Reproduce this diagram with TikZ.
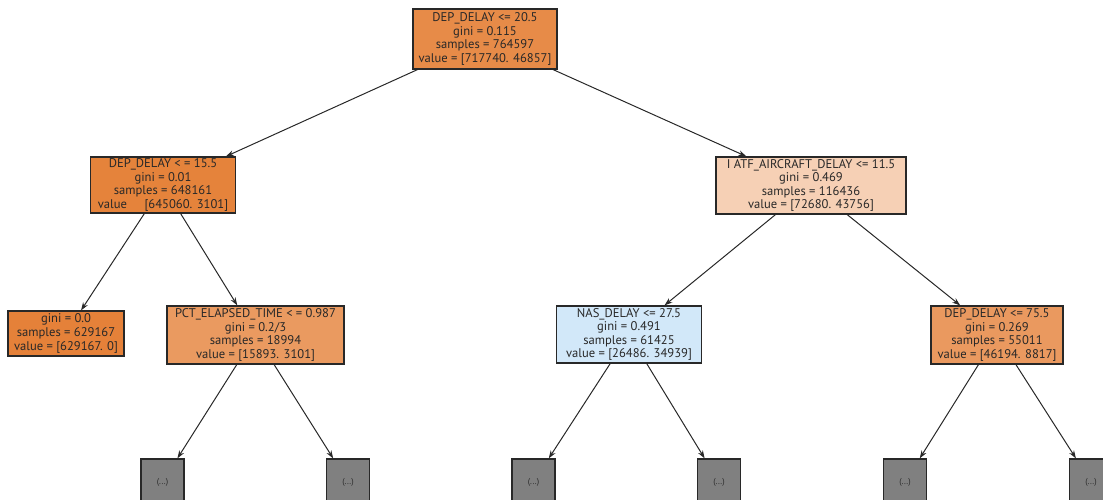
\documentclass[tikz,border=0pt]{standalone}
\usepackage{fontspec}
\setmainfont{PT Sans}
\usetikzlibrary{arrows.meta}
% node fill colours: orange = class 0, blue = class 1, shaded by purity
\definecolor{nodeA}{RGB}{231,139,72}
\definecolor{nodeB}{RGB}{229,131,59}
\definecolor{nodeC}{RGB}{246,208,181}
\definecolor{nodeD}{RGB}{229,129,57}
\definecolor{nodeE}{RGB}{234,154,96}
\definecolor{nodeF}{RGB}{210,232,249}
\definecolor{nodeG}{RGB}{234,153,95}
\definecolor{truncgray}{RGB}{128,128,128}
\definecolor{inkc}{RGB}{40,40,40}
\begin{document}
\begin{tikzpicture}[x=1pt,y=-1pt,
  split/.style={draw=inkc, line width=1.2pt, align=center, inner sep=0pt,
    font=\fontsize{12.6}{13.6}\selectfont, text=inkc},
  trunc/.style={draw=inkc, line width=1.2pt, fill=truncgray, minimum width=43pt,
    minimum height=46pt, inner sep=0pt, font=\fontsize{8.5}{9}\selectfont, text=inkc},
  edge/.style={draw=inkc, line width=1pt, -{Stealth[length=8pt,width=5.5pt]}}]
\path[use as bounding box] (0,0) rectangle (1103,500);
\clip (0,0) rectangle (1103,500);

% depth 0
\node[split, fill=nodeA, minimum width=144pt, minimum height=60pt] (root) at (485,39)
  {DEP\_DELAY <= 20.5\\gini = 0.115\\samples = 764597\\value = [717740. 46857]};

% depth 1
\node[split, fill=nodeB, minimum width=145pt, minimum height=56pt] (l) at (163,185)
  {DEP\_DELAY < = 15.5\\gini = 0.01\\samples = 648161\\value\hspace{1.4em}[645060. 3101]};
\node[split, fill=nodeC, minimum width=190pt, minimum height=57pt] (r) at (811,185.5)
  {I ATF\_AIRCRAFT\_DELAY <= 11.5\\gini = 0.469\\samples = 116436\\value = [72680. 43756]};

% depth 2
\node[split, fill=nodeD, minimum width=116pt, minimum height=45pt] (ll) at (66,333.5)
  {gini = 0.0\\samples = 629167\\value = [629167. 0]};
\node[split, fill=nodeE, minimum width=177pt, minimum height=58pt] (lr) at (255.5,335)
  {PCT\_ELAPSED\_TIME < = 0.987\\gini = 0.2/3\\samples = 18994\\value = [15893. 3101]};
\node[split, fill=nodeF, minimum width=145pt, minimum height=57pt] (rl) at (629,334.5)
  {NAS\_DELAY <= 27.5\\gini = 0.491\\samples = 61425\\value = [26486. 34939]};
\node[split, fill=nodeG, minimum width=132pt, minimum height=58pt] (rr) at (997,335)
  {DEP\_DELAY <= 75.5\\gini = 0.269\\samples = 55011\\value = [46194. 8817]};

% truncated subtrees
\node[trunc] (t1) at (162.5,482) {(...)};
\node[trunc] (t2) at (348,482) {(...)};
\node[trunc] (t3) at (533.5,482) {(...)};
\node[trunc] (t4) at (719,482) {(...)};
\node[trunc] (t5) at (905,482) {(...)};
\node[trunc] (t6) at (1091,482) {(...)};

% edges
\draw[edge] (root) -- (l);
\draw[edge] (root) -- (r);
\draw[edge] (l) -- (ll);
\draw[edge] (l) -- (lr);
\draw[edge] (r) -- (rl);
\draw[edge] (r) -- (rr);
\draw[edge] (lr) -- (t1);
\draw[edge] (lr) -- (t2);
\draw[edge] (rl) -- (t3);
\draw[edge] (rl) -- (t4);
\draw[edge] (rr) -- (t5);
\draw[edge] (rr) -- (t6);
\end{tikzpicture}
\end{document}
